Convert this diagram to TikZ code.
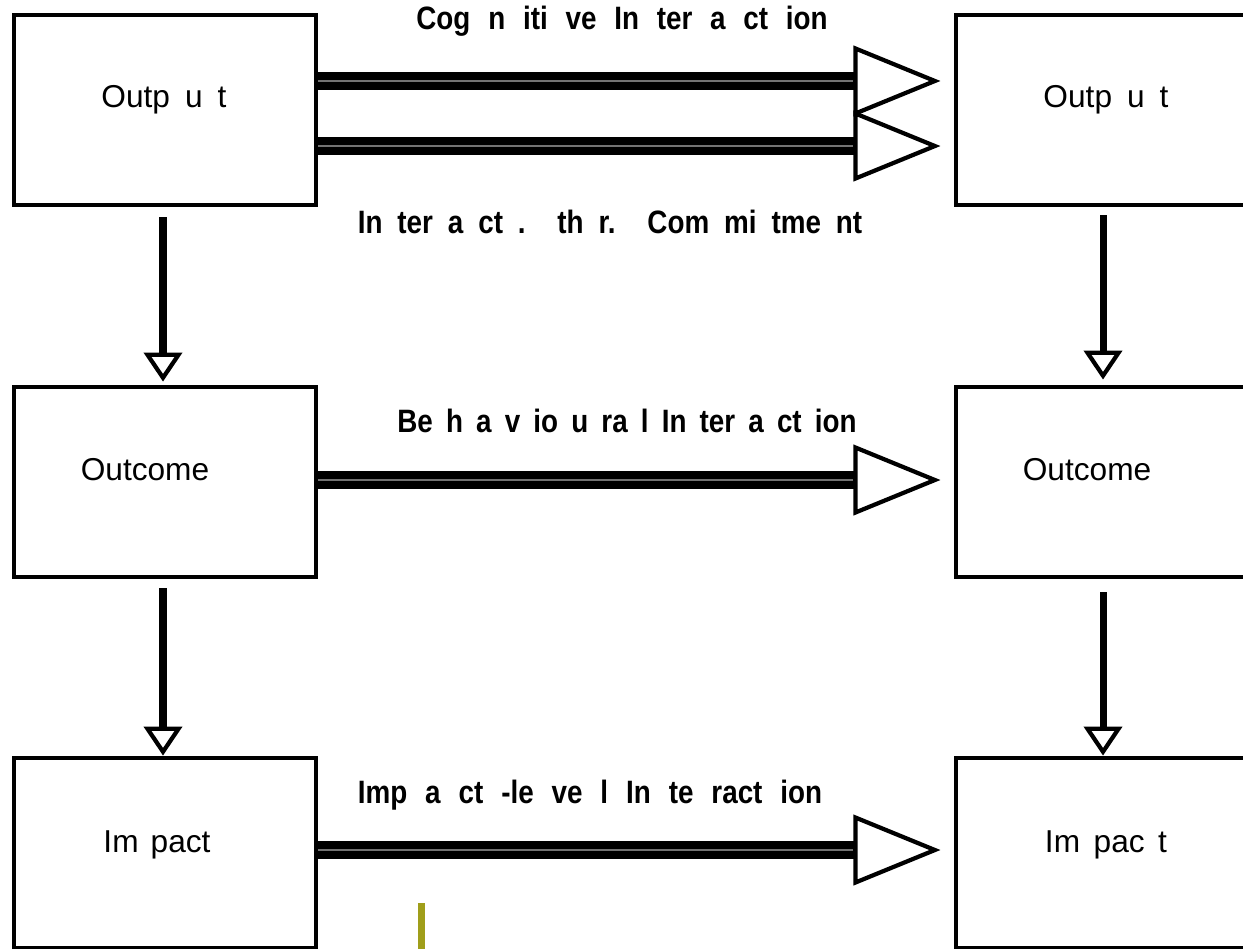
\documentclass[tikz,border=0pt]{standalone}
\usepackage{fontspec}
\setmainfont{Liberation Sans}
\newfontfamily\lblfont[FakeStretch=0.86]{Liberation Sans Bold}
\usetikzlibrary{arrows.meta}
\definecolor{olivebar}{RGB}{160,158,26}
\newcommand{\spread}[2]{\makebox[#1][s]{#2}}

\begin{document}
\begin{tikzpicture}[x=0.01cm, y=-0.01cm,
  box/.style={draw, line width=1.35pt, minimum width=3.02cm, minimum height=1.90cm, inner sep=0pt},
  boxtext/.style={anchor=base, inner sep=0pt, font=\fontsize{9}{11}\selectfont},
  lbl/.style={anchor=base, inner sep=0pt, font=\lblfont\fontsize{9.2}{11}\selectfont},
  flow/.style={line width=0.18cm, shorten >=0.13cm,
    -{Triangle[open, length=0.87cm 0 0, width=0.70cm 0 0, line width=1.2pt 0]},
    postaction={draw=black!55, line width=0.3pt, -, shorten >=1.0cm}},
  down/.style={line width=2pt,
    -{Triangle[open, length=0.29cm 0 0, width=0.38cm 0 0, line width=1.2pt 0]}}
]
\useasboundingbox (0,0) rectangle (1243,948);
\clip (0,0) rectangle (1243,948);

\node[box] (outL) at (165,110) {};
\node[box] (midL) at (165,482) {};
\node[box] (botL) at (165,853) {};
\node[box] (outR) at (1107,110) {};
\node[box] (midR) at (1107,482) {};
\node[box] (botR) at (1107,853) {};

\node[boxtext] (outLtxt) at (164,107) {\spread{1.25cm}{Outp u t}};
\node[boxtext] (outRtxt) at (1106,107) {\spread{1.25cm}{Outp u t}};
\node[boxtext] (midLtxt) at (145,480) {Outcome};
\node[boxtext] (midRtxt) at (1087,480) {Outcome};
\node[boxtext] (botLtxt) at (157,852) {\spread{1.07cm}{Im pact}};
\node[boxtext] (botRtxt) at (1106,852) {\spread{1.22cm}{Im pac t}};

\draw[flow] ([yshift=0.29cm]outL.east) -- ([yshift=0.29cm]outR.west);
\draw[flow] ([yshift=-0.36cm]outL.east) -- ([yshift=-0.36cm]outR.west);
\draw[flow] ([yshift=0.02cm]midL.east) -- ([yshift=0.02cm]midR.west);
\draw[flow] ([yshift=0.03cm]botL.east) -- ([yshift=0.03cm]botR.west);

\node[lbl] (cogLbl) at (622,29) {\spread{4.11cm}{Cog n iti ve In ter a ct ion}};
\node[lbl] (comLbl) at (610,233) {\spread{5.04cm}{In ter a ct . th r. Com mi tme nt}};
\node[lbl] (behLbl) at (627,432) {\spread{4.59cm}{Be h a v io u ra l In ter a ct ion}};
\node[lbl] (impLbl) at (590,803) {\spread{4.64cm}{Imp a ct -le ve l In te ract ion}};

\draw[down, shorten <=0.1cm, shorten >=0.03cm] ([xshift=-0.02cm]outL.south) -- ([xshift=-0.02cm]midL.north);
\draw[down, shorten <=0.09cm] ([xshift=-0.02cm]midL.south) -- ([xshift=-0.02cm]botL.north);
\draw[down, shorten <=0.08cm, shorten >=0.05cm] ([xshift=-0.04cm]outR.south) -- ([xshift=-0.04cm]midR.north);
\draw[down, shorten <=0.13cm] ([xshift=-0.04cm]midR.south) -- ([xshift=-0.04cm]botR.north);

\draw[olivebar, line width=0.07cm] (421,903) -- (421,960);
\end{tikzpicture}
\end{document}
